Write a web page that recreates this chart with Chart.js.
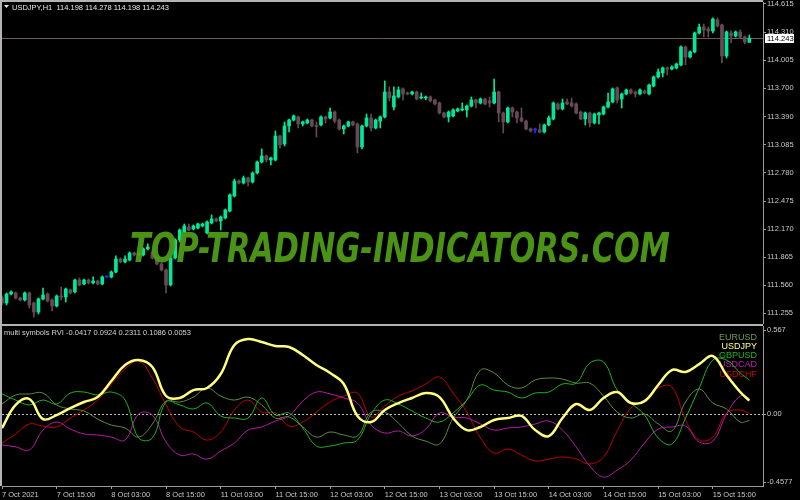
<!DOCTYPE html>
<html>
<head>
<meta charset="utf-8">
<script src="https://cdn.jsdelivr.net/npm/chart.js@4.4.1/dist/chart.umd.min.js"></script>
<style>
  html, body { margin: 0; padding: 0; background: #000; }
  #wrap { position: relative; width: 800px; height: 500px; background: #000; overflow: hidden; }
  #top { position: absolute; left: 0; top: 0; width: 800px; height: 324px; }
  #bottom { position: absolute; left: 0; top: 324px; width: 800px; height: 176px; }
</style>
</head>
<body>
<div id="wrap">
  <div id="top"><canvas id="priceChart"></canvas></div>
  <div id="bottom"><canvas id="rviChart"></canvas></div>
</div>
<script>
// USDJPY H1 candles, bar index 0 = 7 Oct 2021
const candleOpen = [
  111.422, 111.368, 111.466, 111.477, 111.422, 111.401, 111.477, 111.368, 111.270, 111.412,
  111.466, 111.401, 111.336, 111.444, 111.433, 111.510, 111.488, 111.618, 111.575, 111.618,
  111.586, 111.607, 111.575, 111.651, 111.651, 111.705, 111.846, 111.814, 111.835, 111.911,
  111.890, 111.890, 111.955, 111.922, 111.857, 111.792, 111.727, 111.564, 111.857, 112.053,
  112.140, 112.194, 112.172, 112.183, 112.205, 112.129, 112.237, 112.281, 112.259, 112.291,
  112.367, 112.530, 112.693, 112.671, 112.726, 112.682, 112.780, 112.899, 112.964, 112.921,
  112.921, 113.181, 113.095, 113.290, 113.355, 113.388, 113.312, 113.323, 113.355, 113.290,
  113.301, 113.388, 113.377, 113.442, 113.355, 113.258, 113.290, 113.334, 113.312, 113.062,
  113.290, 113.377, 113.268, 113.344, 113.388, 113.659, 113.496, 113.605, 113.692, 113.648,
  113.638, 113.659, 113.594, 113.594, 113.605, 113.573, 113.540, 113.431, 113.388, 113.399,
  113.453, 113.464, 113.464, 113.507, 113.573, 113.540, 113.583, 113.562, 113.540, 113.659,
  113.431, 113.334, 113.485, 113.442, 113.377, 113.344, 113.258, 113.247, 113.247, 113.225,
  113.301, 113.366, 113.529, 113.475, 113.551, 113.540, 113.529, 113.442, 113.366, 113.431,
  113.323, 113.410, 113.420, 113.496, 113.551, 113.703, 113.583, 113.638, 113.681, 113.659,
  113.638, 113.670, 113.638, 113.725, 113.822, 113.866, 113.920, 113.909, 113.920, 113.952,
  114.148, 114.039, 114.094, 114.300, 114.365, 114.343, 114.321, 114.441, 114.387, 114.050,
  114.300, 114.267, 114.311, 114.256, 114.198
];
const candleHigh = [
  111.444, 111.477, 111.499, 111.488, 111.433, 111.488, 111.488, 111.379, 111.422, 111.531,
  111.477, 111.412, 111.455, 111.542, 111.531, 111.520, 111.629, 111.640, 111.629, 111.629,
  111.651, 111.618, 111.662, 111.662, 111.716, 111.879, 111.857, 111.879, 111.922, 111.922,
  111.922, 111.966, 112.010, 111.944, 111.868, 111.803, 111.738, 111.868, 112.064, 112.172,
  112.226, 112.226, 112.216, 112.237, 112.237, 112.259, 112.324, 112.292, 112.313, 112.389,
  112.552, 112.714, 112.704, 112.747, 112.736, 112.791, 112.910, 113.040, 112.975, 112.953,
  113.236, 113.192, 113.333, 113.366, 113.410, 113.399, 113.344, 113.366, 113.366, 113.334,
  113.399, 113.399, 113.485, 113.453, 113.366, 113.301, 113.344, 113.344, 113.323, 113.301,
  113.420, 113.420, 113.366, 113.399, 113.779, 113.714, 113.714, 113.714, 113.703, 113.659,
  113.670, 113.670, 113.648, 113.616, 113.616, 113.583, 113.551, 113.442, 113.453, 113.475,
  113.485, 113.540, 113.518, 113.605, 113.583, 113.594, 113.594, 113.605, 113.800, 113.670,
  113.442, 113.496, 113.496, 113.453, 113.485, 113.355, 113.268, 113.268, 113.312, 113.312,
  113.399, 113.551, 113.540, 113.583, 113.583, 113.594, 113.540, 113.453, 113.442, 113.442,
  113.431, 113.442, 113.507, 113.648, 113.703, 113.714, 113.648, 113.692, 113.692, 113.670,
  113.692, 113.681, 113.746, 113.833, 113.909, 113.931, 113.931, 113.942, 113.974, 114.159,
  114.159, 114.105, 114.311, 114.397, 114.397, 114.365, 114.463, 114.463, 114.397, 114.322,
  114.322, 114.322, 114.333, 114.267, 114.278
];
const candleLow = [
  111.346, 111.346, 111.455, 111.411, 111.390, 111.390, 111.314, 111.216, 111.249, 111.401,
  111.379, 111.281, 111.325, 111.401, 111.379, 111.466, 111.477, 111.553, 111.564, 111.575,
  111.575, 111.564, 111.564, 111.640, 111.640, 111.694, 111.803, 111.803, 111.825, 111.879,
  111.879, 111.879, 111.944, 111.846, 111.781, 111.716, 111.478, 111.553, 111.846, 112.031,
  112.129, 112.151, 112.161, 112.172, 112.194, 112.118, 112.226, 112.248, 112.161, 112.280,
  112.356, 112.519, 112.660, 112.660, 112.638, 112.671, 112.769, 112.888, 112.899, 112.866,
  112.910, 113.051, 113.073, 113.225, 113.344, 113.268, 113.290, 113.312, 113.279, 113.171,
  113.290, 113.323, 113.366, 113.323, 113.247, 113.203, 113.279, 113.290, 112.997, 113.040,
  113.279, 113.236, 113.258, 113.268, 113.377, 113.562, 113.464, 113.594, 113.573, 113.627,
  113.627, 113.573, 113.583, 113.573, 113.551, 113.518, 113.420, 113.377, 113.334, 113.388,
  113.442, 113.453, 113.388, 113.496, 113.485, 113.529, 113.518, 113.496, 113.529, 113.334,
  113.214, 113.323, 113.388, 113.323, 113.334, 113.247, 113.225, 113.214, 113.214, 113.214,
  113.290, 113.355, 113.464, 113.464, 113.518, 113.496, 113.420, 113.355, 113.301, 113.279,
  113.312, 113.312, 113.410, 113.485, 113.540, 113.540, 113.485, 113.627, 113.638, 113.605,
  113.627, 113.638, 113.627, 113.714, 113.811, 113.822, 113.844, 113.898, 113.909, 113.942,
  113.952, 114.028, 114.083, 114.289, 114.256, 114.256, 114.300, 114.365, 113.974, 114.028,
  114.191, 114.256, 114.245, 114.180, 114.198
];
const candleClose = [
  111.368, 111.466, 111.488, 111.422, 111.401, 111.477, 111.346, 111.270, 111.412, 111.455,
  111.390, 111.336, 111.444, 111.433, 111.520, 111.477, 111.618, 111.564, 111.618, 111.586,
  111.607, 111.575, 111.651, 111.651, 111.705, 111.846, 111.814, 111.846, 111.911, 111.890,
  111.911, 111.955, 111.977, 111.857, 111.792, 111.727, 111.564, 111.857, 112.053, 112.161,
  112.205, 112.161, 112.205, 112.226, 112.226, 112.248, 112.281, 112.259, 112.302, 112.378,
  112.541, 112.693, 112.671, 112.726, 112.682, 112.780, 112.899, 112.964, 112.921, 112.943,
  113.181, 113.084, 113.290, 113.355, 113.399, 113.312, 113.334, 113.355, 113.290, 113.285,
  113.388, 113.366, 113.442, 113.344, 113.258, 113.290, 113.334, 113.301, 113.062, 113.290,
  113.377, 113.268, 113.355, 113.388, 113.659, 113.594, 113.616, 113.681, 113.638, 113.638,
  113.659, 113.583, 113.605, 113.605, 113.562, 113.529, 113.431, 113.388, 113.442, 113.464,
  113.475, 113.475, 113.507, 113.573, 113.540, 113.583, 113.529, 113.540, 113.659, 113.431,
  113.334, 113.485, 113.442, 113.377, 113.344, 113.258, 113.236, 113.247, 113.225, 113.301,
  113.377, 113.540, 113.475, 113.540, 113.529, 113.507, 113.431, 113.366, 113.431, 113.323,
  113.420, 113.431, 113.496, 113.551, 113.692, 113.573, 113.638, 113.681, 113.648, 113.638,
  113.681, 113.648, 113.735, 113.822, 113.877, 113.920, 113.909, 113.931, 113.963, 114.148,
  114.039, 114.094, 114.300, 114.365, 114.332, 114.321, 114.452, 114.376, 114.050, 114.311,
  114.267, 114.311, 114.256, 114.202, 114.243
];
const priceTicks = [114.615, 114.310, 114.005, 113.700, 113.390, 113.085, 112.780, 112.475, 112.170, 111.865, 111.560, 111.255];
const lastPrice = 114.243;
const symbolTitle = "USDJPY,H1";

// time axis
const timeTickBars = [0, 12, 24, 36, 48, 60, 72, 84, 96, 108, 120, 132, 144, 156];
const timeLabels = ["7 Oct 2021", "7 Oct 15:00", "8 Oct 03:00", "8 Oct 15:00", "11 Oct 03:00", "11 Oct 15:00",
  "12 Oct 03:00", "12 Oct 15:00", "13 Oct 03:00", "13 Oct 15:00", "14 Oct 03:00", "14 Oct 15:00",
  "15 Oct 03:00", "15 Oct 15:00"];

// multi symbols RVI, read every third bar
const rviBars = [0, 3, 6, 9, 12, 15, 18, 21, 24, 27, 30, 33, 36, 39, 42, 45, 48, 51, 54, 57,
  60, 63, 66, 69, 72, 75, 78, 81, 84, 87, 90, 93, 96, 99, 102, 105, 108, 111, 114, 117,
  120, 123, 126, 129, 132, 135, 138, 141, 144, 147, 150, 153, 156, 159, 162, 164];
const eurusd = [0.069, 0.130, 0.137, 0.143, 0.063, 0.036, 0.022, -0.032, -0.072, -0.092,
  -0.153, -0.065, 0.089, 0.083, 0.116, 0.177, 0.123, 0.096, 0.116, 0.063,
  -0.025, -0.018, -0.085, -0.153, -0.119, -0.139, -0.146, 0.015, 0.015, -0.059,
  -0.146, -0.180, -0.200, -0.025, 0.096, 0.298, 0.278, 0.197, 0.177, 0.231,
  0.244, 0.237, 0.210, 0.210, 0.123, 0.015, -0.025, 0.002, -0.065, -0.112,
  0.083, 0.170, 0.076, 0.036, -0.052, -0.0417];
const usdjpy = [-0.092, 0.063, 0.103, -0.032, -0.005, 0.042, 0.083, 0.116, 0.224, 0.332,
  0.365, 0.318, 0.123, 0.110, 0.163, 0.177, 0.271, 0.466, 0.506, 0.486,
  0.459, 0.453, 0.399, 0.332, 0.278, 0.204, -0.011, -0.052, 0.029, 0.076,
  0.110, 0.143, 0.116, -0.025, -0.106, -0.085, -0.038, -0.025, -0.011, -0.106,
  -0.146, -0.025, 0.069, 0.029, 0.110, 0.150, 0.076, 0.089, 0.197, 0.298,
  0.285, 0.338, 0.392, 0.264, 0.150, 0.0924];
const gbpusd = [0.137, 0.096, 0.063, 0.096, 0.069, 0.143, 0.150, 0.130, 0.150, 0.096,
  -0.159, -0.159, 0.083, 0.063, 0.036, 0.076, -0.011, -0.025, -0.025, 0.110,
  -0.005, 0.009, -0.092, -0.213, -0.213, -0.193, -0.173, 0.002, 0.096, 0.069,
  0.022, -0.025, -0.052, 0.009, 0.096, 0.197, 0.163, 0.150, 0.110, 0.143,
  0.150, 0.204, 0.210, 0.345, 0.352, 0.163, 0.076, -0.005, -0.159, -0.200,
  -0.025, 0.177, 0.365, 0.365, 0.278, 0.2311];
const usdcad = [-0.206, -0.219, -0.240, -0.106, -0.052, -0.099, -0.132, -0.139, -0.153, -0.173,
  0.002, -0.005, -0.186, -0.274, -0.267, -0.301, -0.247, -0.193, -0.106, -0.085,
  -0.045, -0.011, 0.089, 0.150, 0.137, 0.110, 0.076, -0.072, -0.126, -0.112,
  -0.146, -0.099, 0.009, -0.018, -0.025, -0.065, -0.106, -0.092, -0.085, -0.065,
  -0.045, -0.106, -0.219, -0.348, -0.422, -0.375, -0.307, -0.193, -0.099, -0.085,
  -0.079, -0.186, -0.180, 0.002, 0.123, 0.1086];
const usdchf = [-0.193, -0.132, -0.065, -0.079, -0.085, -0.025, 0.029, 0.096, 0.204, 0.305,
  0.358, 0.244, 0.063, -0.085, -0.119, -0.173, -0.119, 0.029, 0.096, 0.015,
  0.009, -0.079, -0.052, 0.015, 0.083, 0.123, 0.143, -0.018, 0.056, 0.123,
  0.157, 0.204, 0.251, 0.143, 0.015, -0.159, -0.260, -0.233, -0.274, -0.314,
  -0.301, -0.287, -0.301, -0.334, -0.287, -0.112, 0.042, 0.096, 0.177, 0.184,
  -0.038, -0.173, -0.153, 0.009, 0.029, 0.0053];
const rviNames = ["EURUSD", "USDJPY", "GBPUSD", "USDCAD", "USDCHF"];
const rviTicks = [0.567, 0, -0.4577];
const rviTickLabels = ["0.567", "0.00", "-0.4577"];

Chart.defaults.font.family = '"Liberation Sans", Arial, sans-serif';
Chart.defaults.animation = false;

const axisColor = "#9a9a9a";
const textColor = "#c8c8c8";
const smallFont = '7.5px "Liberation Sans", Arial, sans-serif';

function candleColor(i) {
  if (candleClose[i] > candleOpen[i]) return "#00e89a";
  if (candleClose[i] < candleOpen[i]) return "#684957";
  return "#2828ff";
}

// keep the plot area where MT4 has it: no extra room for edge labels
function fixSide(width) {
  return s => {
    s.width = width;
    s.paddingTop = 0;
    s.paddingBottom = 0;
  };
}

// price panel extras: frame, price line, price box, title, watermark
const pricePanel = {
  id: "pricePanel",
  beforeDatasetsDraw(chart) {
    const { ctx, chartArea } = chart;
    const y = Math.round(chart.scales.y.getPixelForValue(lastPrice)) + 0.5;
    ctx.save();
    ctx.strokeStyle = "#6f5862";
    ctx.lineWidth = 1;
    ctx.beginPath();
    ctx.moveTo(chartArea.left, y);
    ctx.lineTo(chartArea.right, y);
    ctx.stroke();
    ctx.restore();
  },
  afterDraw(chart) {
    const { ctx, chartArea } = chart;
    ctx.save();
    // frame
    ctx.fillStyle = "#b4b4b4";
    ctx.fillRect(0, 0, chartArea.right, 2);
    ctx.fillRect(0, 0, 2, chart.height);

    // watermark
    const wm = "TOP-TRADING-INDICATORS.COM";
    ctx.font = 'italic bold 40px "DejaVu Sans", sans-serif';
    const w = ctx.measureText(wm).width;
    ctx.translate(400, 262);
    ctx.scale(540 / w, 1);
    ctx.fillStyle = "rgba(80,158,22,0.93)";
    ctx.textAlign = "center";
    ctx.textBaseline = "alphabetic";
    ctx.fillText(wm, 0, 0);
    ctx.setTransform(chart.currentDevicePixelRatio, 0, 0, chart.currentDevicePixelRatio, 0, 0);

    // title
    const n = candleClose.length - 1;
    const title = symbolTitle + "  " + [candleOpen[n], candleHigh[n], candleLow[n], candleClose[n]]
      .map(v => v.toFixed(3)).join(" ");
    ctx.fillStyle = "#e6e6e6";
    ctx.beginPath();
    ctx.moveTo(4, 5);
    ctx.lineTo(9, 5);
    ctx.lineTo(6.5, 8);
    ctx.closePath();
    ctx.fill();
    ctx.font = smallFont;
    ctx.textAlign = "left";
    ctx.fillText(title, 12, 10);

    // current price box
    const py = chart.scales.y.getPixelForValue(lastPrice);
    ctx.fillStyle = "#ffffff";
    ctx.fillRect(chartArea.right + 2, Math.round(py) - 4, 29, 9);
    ctx.fillStyle = "#000000";
    ctx.textBaseline = "middle";
    ctx.fillText(lastPrice.toFixed(3), chartArea.right + 4, py + 0.5);
    ctx.restore();
  }
};

new Chart(document.getElementById("priceChart"), {
  type: "bar",
  data: {
    datasets: [
      {
        label: "body",
        data: candleOpen.map((o, i) => ({ x: i, y: [o, candleClose[i]] })),
        backgroundColor: ctx => candleColor(ctx.dataIndex),
        barThickness: 3,
        minBarLength: 1,
        grouped: false,
        borderWidth: 0
      },
      {
        label: "wick",
        data: candleHigh.map((h, i) => ({ x: i, y: [candleLow[i], h] })),
        backgroundColor: ctx => candleColor(ctx.dataIndex),
        barThickness: 1,
        minBarLength: 1,
        grouped: false,
        borderWidth: 0
      }
    ]
  },
  options: {
    responsive: true,
    maintainAspectRatio: false,
    layout: { padding: { top: 2, left: 2, right: 0, bottom: 0 } },
    plugins: { legend: { display: false }, tooltip: { enabled: false } },
    scales: {
      x: { type: "linear", min: 0, max: 167, offset: false, display: false, grid: { offset: false } },
      y: {
        position: "right",
        min: 111.140,
        max: 114.636,
        beginAtZero: false,
        afterFit: fixSide(37),
        afterBuildTicks: s => { s.ticks = priceTicks.map(v => ({ value: v })); },
        ticks: { color: textColor, font: { size: 7.5 }, padding: 1, callback: v => v.toFixed(3) },
        grid: { drawOnChartArea: false, tickLength: 3, tickColor: axisColor },
        border: { color: axisColor }
      }
    }
  },
  plugins: [pricePanel]
});

// indicator panel extras: separator, zero line, caption, legend
const rviColors = ["#5b8c42", "#ffff80", "#1db41d", "#b81aa6", "#c00000"];
const legendColors = ["#6f9a55", "#ffff80", "#1db41d", "#c81ab6", "#d00000"];
const rviSeries = [eurusd, usdjpy, gbpusd, usdcad, usdchf];

const rviPanel = {
  id: "rviPanel",
  beforeDatasetsDraw(chart) {
    const { ctx, chartArea } = chart;
    const y = Math.round(chart.scales.y.getPixelForValue(0)) + 0.5;
    ctx.save();
    ctx.strokeStyle = "#bdbdbd";
    ctx.lineWidth = 1;
    ctx.setLineDash([2, 2]);
    ctx.beginPath();
    ctx.moveTo(chartArea.left, y);
    ctx.lineTo(chartArea.right, y);
    ctx.stroke();
    ctx.setLineDash([]);

    // legend
    ctx.font = '9px "Liberation Sans", Arial, sans-serif';
    ctx.textAlign = "right";
    ctx.textBaseline = "alphabetic";
    rviNames.forEach((name, i) => {
      ctx.fillStyle = legendColors[i];
      ctx.fillText(name, chartArea.right - 6, 15.5 + i * 9.3);
    });
    ctx.restore();
  },
  afterDraw(chart) {
    const { ctx, chartArea } = chart;
    ctx.save();
    ctx.fillStyle = "#b4b4b4";
    ctx.fillRect(0, 0, chartArea.right, 2);
    ctx.fillRect(0, 0, 2, chartArea.bottom);

    const caption = "multi symbols RVI " + rviSeries.map(s => s[s.length - 1].toFixed(4)).join(" ");
    ctx.font = smallFont;
    ctx.fillStyle = "#d2d2d2";
    ctx.textAlign = "left";
    ctx.fillText(caption, 4, 11);
    ctx.restore();
  }
};

new Chart(document.getElementById("rviChart"), {
  type: "line",
  data: {
    datasets: rviSeries.map((s, i) => ({
      label: rviNames[i],
      data: rviBars.map((b, j) => ({ x: b, y: s[j] })),
      borderColor: rviColors[i],
      borderWidth: i === 1 ? 2.5 : 1,
      pointRadius: 0,
      tension: 0.4,
      fill: false,
      order: i === 1 ? 0 : i + 1
    }))
  },
  options: {
    responsive: true,
    maintainAspectRatio: false,
    layout: { padding: { top: 2, left: 2, right: 0, bottom: 0 } },
    plugins: { legend: { display: false }, tooltip: { enabled: false } },
    scales: {
      x: {
        type: "linear",
        min: 0,
        max: 167,
        afterFit: s => { s.height = 14; s.paddingLeft = 0; s.paddingRight = 0; },
        afterBuildTicks: s => { s.ticks = timeTickBars.map(v => ({ value: v })); },
        ticks: {
          color: textColor, font: { size: 7.5 }, padding: 1, align: "start",
          maxRotation: 0, autoSkip: false, callback: (v, i) => timeLabels[i]
        },
        grid: { drawOnChartArea: false, tickLength: 3, tickColor: axisColor },
        border: { color: axisColor }
      },
      y: {
        position: "right",
        min: -0.482,
        max: 0.594,
        afterFit: fixSide(37),
        afterBuildTicks: s => { s.ticks = rviTicks.map(v => ({ value: v })); },
        ticks: { color: textColor, font: { size: 7.5 }, padding: 1, callback: (v, i) => rviTickLabels[i] },
        grid: { drawOnChartArea: false, tickLength: 3, tickColor: axisColor },
        border: { color: axisColor }
      }
    }
  },
  plugins: [rviPanel]
});
</script>
</body>
</html>
